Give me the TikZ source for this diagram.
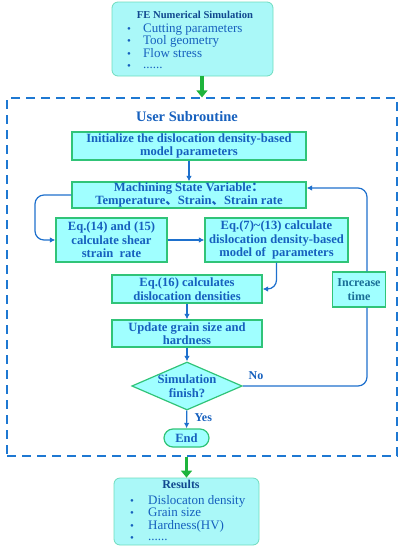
\documentclass[tikz,border=0pt]{standalone}
\usepackage{fontspec}
\setmainfont{Liberation Serif}
\newfontfamily\cjk{Noto Sans CJK SC}
\usetikzlibrary{shapes.geometric,arrows.meta,calc}
\definecolor{boxfill}{RGB}{160,255,255}
\definecolor{topfill}{RGB}{170,248,248}
\definecolor{boxline}{RGB}{48,196,120}
\definecolor{topline}{RGB}{110,220,190}
\definecolor{txtblue}{RGB}{22,96,190}
\definecolor{lineblue}{RGB}{30,112,205}
\definecolor{dashblue}{RGB}{30,120,210}
\definecolor{arrgreen}{RGB}{30,180,60}
\definecolor{inctxt}{RGB}{25,110,150}
\begin{document}
\begin{tikzpicture}[x=1pt,y=-1pt,
  flowbox/.style={draw=boxline,line width=1.2pt,fill=boxfill,inner sep=0pt,
    align=center,text=txtblue,font=\fontsize{12.6}{13.5}\selectfont\bfseries},
  infobox/.style={draw=topline,line width=0.8pt,fill=topfill,rounded corners=6pt,inner sep=0pt},
  conn/.style={draw=lineblue,line width=1.2pt,-{Latex[length=5.5pt,width=5.5pt]}},
  bigarrow/.style={draw=arrgreen,line width=3.5pt,-{Triangle[length=7pt,width=11pt]}},
  lbl/.style={text=txtblue,font=\fontsize{12}{13}\selectfont\bfseries},
  hdr/.style={text=txtblue!75!black,font=\fontsize{11}{12}\selectfont\bfseries,anchor=base,inner sep=0pt},
  itemtxt/.style={text=txtblue,font=\fontsize{13}{13}\selectfont,anchor=base west,inner sep=0pt,
    text height=8.5pt,text depth=2pt},
  dots/.style={itemtxt,text height=2pt,text depth=0pt},
  bul/.style={text=txtblue,font=\fontsize{11}{11}\selectfont,anchor=base,inner sep=0pt}
]
\useasboundingbox (0,0) rectangle (404,550);

% top box
\node[infobox,minimum width=161pt,minimum height=74pt] (fe) at (192.5,39) {};
\node[hdr,font=\fontsize{10.6}{12}\selectfont\bfseries] (fet) at (195,18) {FE Numerical Simulation};
\node[bul] (b1) at (129,32) {\textbullet};
\node[itemtxt] (i1) at (143,32) {Cutting parameters};
\node[bul] (b2) at (129,44.5) {\textbullet};
\node[itemtxt] (i2) at (143,44.5) {Tool geometry};
\node[bul] (b3) at (129,57) {\textbullet};
\node[itemtxt] (i3) at (143,57) {Flow stress};
\node[bul] (b4) at (129,69.5) {\textbullet};
\node[dots] (i4) at (143,68.5) {......};

% dashed subroutine frame
\node[draw=dashblue,line width=1.2pt,dash pattern=on 9pt off 6pt,inner sep=0pt,
  minimum width=390pt,minimum height=358pt] (frame) at (202,277) {};
\node[lbl,font=\fontsize{14.5}{16}\selectfont\bfseries] (us) at (187,117) {User Subroutine};

\node[flowbox,minimum width=234pt,minimum height=28pt] (init) at (189,146)
  {Initialize the dislocation density-based\\model parameters};
\node[flowbox,minimum width=234pt,minimum height=26pt] (mach) at (189,195)
  {Machining State Variable{\cjk ：}\\Temperature{\cjk 、}Strain{\cjk 、}Strain rate};
\node[flowbox,minimum width=111pt,minimum height=44pt] (eqa) at (111.5,240)
  {Eq.(14) and (15)\\calculate shear\\strain\ \ rate};
\node[flowbox,minimum width=143pt,minimum height=44pt] (eqb) at (276.5,240)
  {Eq.(7)\textasciitilde(13) calculate\\dislocation density-based\\model of\ \ parameters};
\node[flowbox,minimum width=150pt,minimum height=28pt] (eqc) at (187,289)
  {Eq.(16) calculates\\dislocation densities};
\node[flowbox,minimum width=150pt,minimum height=27pt] (upd) at (187,333.5)
  {Update grain size and\\hardness};
\node[flowbox,diamond,aspect=2.3,minimum width=110pt,minimum height=48pt,inner sep=0pt] (dia) at (187,386)
  {Simulation\\finish?};
\node[flowbox,rounded corners=9pt,minimum width=45pt,minimum height=18pt] (end) at (186.5,438) {End};

\coordinate (lx) at (35,0);
\node[flowbox,minimum width=53pt,minimum height=35pt,text=inctxt,
  font=\fontsize{12}{13.5}\selectfont\bfseries] (inc) at (359,289.5) {Increase\\time};

\draw[conn] (init) -- (mach);
\draw[conn,rounded corners=9pt] (mach.west) -- (mach.west -| lx) |- (eqa.west);
\draw[conn] (eqa) -- (eqb);
\draw[conn,rounded corners=9pt] (eqb.south) |- (eqc.east);
\draw[conn] (eqc) -- (upd);
\draw[conn] (upd) -- (dia);
\draw[conn] (dia) -- (end) node[lbl,pos=0.4,right=4pt] {Yes};
\draw[draw=lineblue,line width=1.2pt,rounded corners=9pt] (dia.east) -| ([xshift=8pt]inc.south);
\draw[conn,rounded corners=9pt] ([xshift=8pt]inc.north) |- ([yshift=7pt]mach.east);
\node[lbl] (no) at (256,376) {No};

% results
\node[infobox,minimum width=145pt,minimum height=67pt] (res) at (186.5,511.5) {};
\node[hdr,font=\fontsize{12}{13}\selectfont\bfseries] (rest) at (181,488) {Results};
\node[bul] (r1) at (132,504) {\textbullet};
\node[itemtxt] (ri1) at (148,504) {Dislocaton density};
\node[bul] (r2) at (132,516.5) {\textbullet};
\node[itemtxt] (ri2) at (148,516.5) {Grain size};
\node[bul] (r3) at (132,529) {\textbullet};
\node[itemtxt] (ri3) at (148,529) {Hardness(HV)};
\node[bul] (r4) at (132,541) {\textbullet};
\node[dots] (ri4) at (148,540.5) {......};

\draw[bigarrow] (fe.south -| frame.north) -- (frame.north);
\draw[bigarrow] (frame.south -| res.north) -- (res.north);
\end{tikzpicture}
\end{document}
